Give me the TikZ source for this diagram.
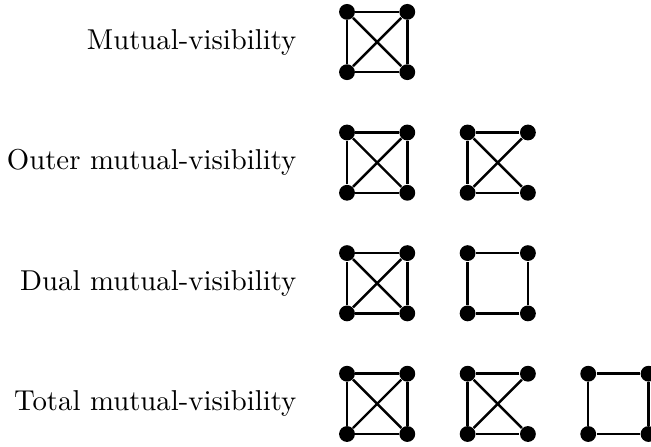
\documentclass[tikz,border=0pt]{standalone}

\tikzset{vtx/.style={circle,fill=black,inner sep=0pt,minimum size=5.5pt},
  ln/.style={line width=0.85pt}}

\begin{document}
\begin{tikzpicture}[x=0.737cm,y=0.737cm]
\useasboundingbox (-5.754,-0.199) rectangle (5.041,7.197);

\node[anchor=east] (mv) at (-0.67,6.5) {Mutual-visibility};
\node[anchor=east] (omv) at (-0.67,4.5) {Outer mutual-visibility};
\node[anchor=east] (dmv) at (-0.67,2.5) {Dual mutual-visibility};
\node[anchor=east] (tmv) at (-0.67,0.5) {Total mutual-visibility};

% mutual-visibility
\node[vtx] (a1) at (0,7) {}; \node[vtx] (b1) at (1,7) {};
\node[vtx] (c1) at (0,6) {}; \node[vtx] (d1) at (1,6) {};
\draw [ln] (a1) -- (b1) -- (d1) -- (c1) -- (a1);
\draw [ln] (a1) -- (d1);
\draw [ln] (c1) -- (b1);

% outer mutual-visibility
\node[vtx] (a2) at (0,5) {}; \node[vtx] (b2) at (1,5) {};
\node[vtx] (c2) at (0,4) {}; \node[vtx] (d2) at (1,4) {};
\draw [ln] (a2) -- (b2) -- (d2) -- (c2) -- (a2);
\draw [ln] (a2) -- (d2);
\draw [ln] (c2) -- (b2);

\node[vtx] (e2) at (2,5) {}; \node[vtx] (f2) at (3,5) {};
\node[vtx] (g2) at (2,4) {}; \node[vtx] (h2) at (3,4) {};
\draw [ln] (f2) -- (e2) -- (g2) -- (h2);
\draw [ln] (e2) -- (h2);
\draw [ln] (g2) -- (f2);

% dual mutual-visibility
\node[vtx] (a3) at (0,3) {}; \node[vtx] (b3) at (1,3) {};
\node[vtx] (c3) at (0,2) {}; \node[vtx] (d3) at (1,2) {};
\draw [ln] (a3) -- (b3) -- (d3) -- (c3) -- (a3);
\draw [ln] (a3) -- (d3);
\draw [ln] (c3) -- (b3);

\node[vtx] (e3) at (2,3) {}; \node[vtx] (f3) at (3,3) {};
\node[vtx] (g3) at (2,2) {}; \node[vtx] (h3) at (3,2) {};
\draw [ln] (e3) -- (f3) -- (h3) -- (g3) -- (e3);

% total mutual-visibility
\node[vtx] (a4) at (0,1) {}; \node[vtx] (b4) at (1,1) {};
\node[vtx] (c4) at (0,0) {}; \node[vtx] (d4) at (1,0) {};
\draw [ln] (a4) -- (b4) -- (d4) -- (c4) -- (a4);
\draw [ln] (a4) -- (d4);
\draw [ln] (c4) -- (b4);

\node[vtx] (e4) at (2,1) {}; \node[vtx] (f4) at (3,1) {};
\node[vtx] (g4) at (2,0) {}; \node[vtx] (h4) at (3,0) {};
\draw [ln] (f4) -- (e4) -- (g4) -- (h4);
\draw [ln] (e4) -- (h4);
\draw [ln] (g4) -- (f4);

\node[vtx] (i4) at (4,1) {}; \node[vtx] (j4) at (5,1) {};
\node[vtx] (k4) at (4,0) {}; \node[vtx] (l4) at (5,0) {};
\draw [ln] (i4) -- (j4) -- (l4) -- (k4) -- (i4);
\end{tikzpicture}
\end{document}
